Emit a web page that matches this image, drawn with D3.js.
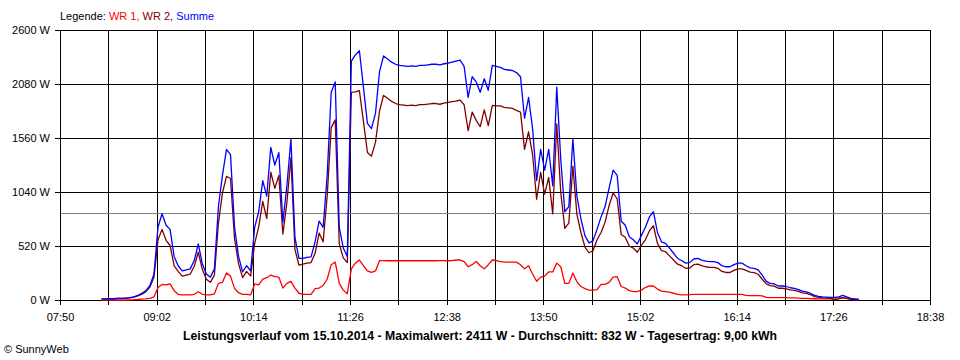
<!DOCTYPE html>
<html><head><meta charset="utf-8">
<script src="https://cdn.jsdelivr.net/npm/d3@7"></script>
<style>
html,body{margin:0;padding:0;background:#fff;}
svg{display:block;font-family:"Liberation Sans",Arial,sans-serif;}
</style></head><body>
<svg id="chart" width="960" height="360"></svg>
<script>
// ---- data ----
const sampleStart = "08:21";   // first sample
const sampleStepMin = 3;       // minutes between samples

const summe = [10,10,12,12,15,15,18,22,30,45,
 65,90,140,250,700,830,720,680,420,330,
 280,290,300,380,540,350,250,220,300,900,
 1200,1450,1400,700,420,270,330,280,700,850,
 1150,1000,1470,1300,1420,750,1100,1550,600,400,
 400,410,415,560,760,700,1200,2000,2100,700,
 500,420,2300,2360,2400,2050,1700,1650,1800,2200,
 2350,2320,2290,2270,2260,2255,2250,2255,2250,2260,
 2260,2265,2270,2270,2265,2275,2280,2290,2300,2310,
 2250,1950,2150,2100,2000,2130,2020,2260,2250,2240,
 2220,2215,2210,2190,2150,1750,1950,1650,1150,1450,
 1250,1450,1100,2050,1350,850,900,1550,1000,780,
 620,550,570,680,800,900,1080,1250,1200,760,
 720,610,580,540,620,700,800,850,650,560,
 545,500,450,400,380,355,360,395,400,385,
 375,370,370,360,330,320,320,340,355,355,
 330,310,305,290,240,180,160,155,135,135,
 130,118,112,100,85,78,65,45,35,30,
 28,25,25,30,45,30,15,10,5];

const wr1 = [0,0,0,0,0,0,0,2,3,5,
 8,10,15,30,120,150,145,155,90,55,
 50,50,50,55,80,55,50,50,60,160,
 170,260,230,110,70,55,55,50,155,145,
 200,215,240,225,220,115,160,180,115,65,
 55,55,55,110,115,140,200,340,365,160,
 95,60,300,355,385,330,280,265,280,380,
 380,378,378,378,378,378,378,378,378,378,
 378,378,378,378,380,380,378,380,385,385,
 370,320,340,370,330,300,340,385,380,370,
 365,365,365,365,340,300,330,250,180,220,
 230,270,270,355,320,160,160,260,175,130,
 110,95,95,100,150,150,170,220,225,130,
 115,90,80,80,95,120,135,135,105,85,
 80,75,65,55,50,50,52,55,55,55,
 55,55,55,55,55,55,55,55,55,55,
 45,42,42,42,40,25,22,22,22,22,
 22,20,20,18,16,15,14,12,10,10,
 10,15,20,20,22,15,8,5,0];

const wr2 = [10,10,12,12,15,15,18,20,27,40,
 57,80,125,220,580,680,575,525,330,275,
 230,240,250,325,460,295,200,170,240,740,
 1030,1190,1170,590,350,215,275,230,545,705,
 950,785,1230,1075,1200,635,940,1370,485,335,
 345,355,360,450,645,560,1000,1660,1735,540,
 405,360,2000,2005,2015,1720,1420,1385,1520,1820,
 1970,1942,1912,1892,1882,1877,1872,1877,1872,1882,
 1882,1887,1892,1892,1885,1895,1902,1910,1915,1925,
 1880,1630,1810,1730,1670,1830,1680,1875,1870,1870,
 1855,1850,1845,1825,1810,1450,1620,1400,970,1230,
 1020,1180,830,1695,1030,690,740,1290,825,650,
 510,455,475,580,650,750,910,1030,975,630,
 605,520,500,460,525,580,665,715,545,475,
 465,425,385,345,330,305,308,340,345,330,
 320,315,315,305,275,265,265,285,300,300,
 285,268,263,248,200,155,138,133,113,113,
 108,98,92,82,69,63,51,33,25,20,
 18,10,5,10,23,15,7,5,5];

const yTicks = [0, 520, 1040, 1560, 2080, 2600];
const xTickLabels = ["07:50","09:02","10:14","11:26","12:38","13:50","15:02","16:14","17:26","18:38"];
const xGridStepMin = 36;
const averageW = 832;
const legendItems = [
  {text: "WR 1", color: "#ff0000"},
  {text: "WR 2", color: "#800000"},
  {text: "Summe", color: "#0000ff"}
];
const titleText = "Leistungsverlauf vom 15.10.2014 - Maximalwert: 2411 W - Durchschnitt: 832 W - Tagesertrag: 9,00 kWh";
const copyrightText = "\u00A9 SunnyWeb";

// ---- helpers ----
const toMin = s => { const [h, m] = s.split(":").map(Number); return h * 60 + m; };
const fmtMin = m => String(Math.floor(m / 60)).padStart(2, "0") + ":" + String(m % 60).padStart(2, "0");

const startMin = toMin(sampleStart);
const times = summe.map((_, i) => startMin + i * sampleStepMin);

const svg = d3.select("#chart");
const L = 60, R = 930, T = 30, B = 300;

const x = d3.scaleLinear()
  .domain([toMin(xTickLabels[0]), toMin(xTickLabels[xTickLabels.length - 1])])
  .range([L, R]);
const y = d3.scaleLinear().domain([0, yTicks[yTicks.length - 1]]).range([B, T]);

const gridTimes = d3.range(x.domain()[0], x.domain()[1] + 1, xGridStepMin);
const labelSet = new Set(xTickLabels.map(toMin));

// grid
svg.append("g")
  .attr("transform", `translate(0,${B})`)
  .call(d3.axisBottom(x).tickValues(gridTimes).tickSize(-(B - T)).tickFormat(""))
  .call(g => g.select(".domain").remove())
  .call(g => g.selectAll("line").attr("stroke", "#000").attr("shape-rendering", "crispEdges"));

svg.append("g")
  .attr("transform", `translate(${L},0)`)
  .call(d3.axisLeft(y).tickValues(yTicks).tickSize(-(R - L)).tickFormat(""))
  .call(g => g.select(".domain").remove())
  .call(g => g.selectAll("line").attr("stroke", "#000").attr("shape-rendering", "crispEdges"));

// average line
svg.append("line")
  .attr("x1", L).attr("x2", R)
  .attr("y1", y(averageW)).attr("y2", y(averageW))
  .attr("stroke", "#808080").attr("shape-rendering", "crispEdges");

// axes with ticks and labels
svg.append("g")
  .attr("transform", `translate(0,${B})`)
  .call(d3.axisBottom(x).tickValues(gridTimes).tickSizeInner(5).tickSizeOuter(0).tickPadding(8)
    .tickFormat(d => labelSet.has(d) ? fmtMin(d) : ""))
  .call(g => g.select(".domain").attr("stroke", "#000").attr("shape-rendering", "crispEdges"))
  .call(g => g.selectAll("line").attr("stroke", "#000").attr("shape-rendering", "crispEdges"))
  .call(g => g.selectAll("text").attr("fill", "#000")
    .style("font-family", '"Liberation Sans", Arial, sans-serif').style("font-size", "11px"));

svg.append("g")
  .attr("transform", `translate(${L},0)`)
  .call(d3.axisLeft(y).tickValues(yTicks).tickSizeInner(5).tickSizeOuter(0).tickPadding(5)
    .tickFormat(d => d + " W"))
  .call(g => g.select(".domain").attr("stroke", "#000").attr("shape-rendering", "crispEdges"))
  .call(g => g.selectAll("line").attr("stroke", "#000").attr("shape-rendering", "crispEdges"))
  .call(g => g.selectAll("text").attr("fill", "#000")
    .style("font-family", '"Liberation Sans", Arial, sans-serif').style("font-size", "11px"));

// series
const line = d3.line().x((d, i) => x(times[i])).y(d => y(d)).curve(d3.curveLinear);
const series = [
  {values: wr1, color: legendItems[0].color},
  {values: wr2, color: legendItems[1].color},
  {values: summe, color: legendItems[2].color}
];
svg.append("g").selectAll("path").data(series).join("path")
  .attr("d", s => line(s.values))
  .attr("fill", "none")
  .attr("stroke", s => s.color)
  .attr("stroke-width", 1.3)
  .attr("stroke-linejoin", "round");

// legend
const lg = svg.append("text").attr("x", 60).attr("y", 20).style("font-size", "11px");
lg.append("tspan").attr("fill", "#000").text("Legende: ");
legendItems.forEach((it, i) => {
  lg.append("tspan").attr("fill", it.color).text(it.text + (i < legendItems.length - 1 ? ", " : ""));
});

// title
svg.append("text")
  .attr("x", 480).attr("y", 340)
  .attr("text-anchor", "middle")
  .attr("textLength", 594).attr("lengthAdjust", "spacingAndGlyphs")
  .style("font-size", "12px").style("font-weight", "bold")
  .attr("fill", "#000")
  .text(titleText);

// copyright
svg.append("text")
  .attr("x", 4).attr("y", 353)
  .style("font-size", "11px")
  .attr("fill", "#000")
  .text(copyrightText);
</script>
</body></html>
